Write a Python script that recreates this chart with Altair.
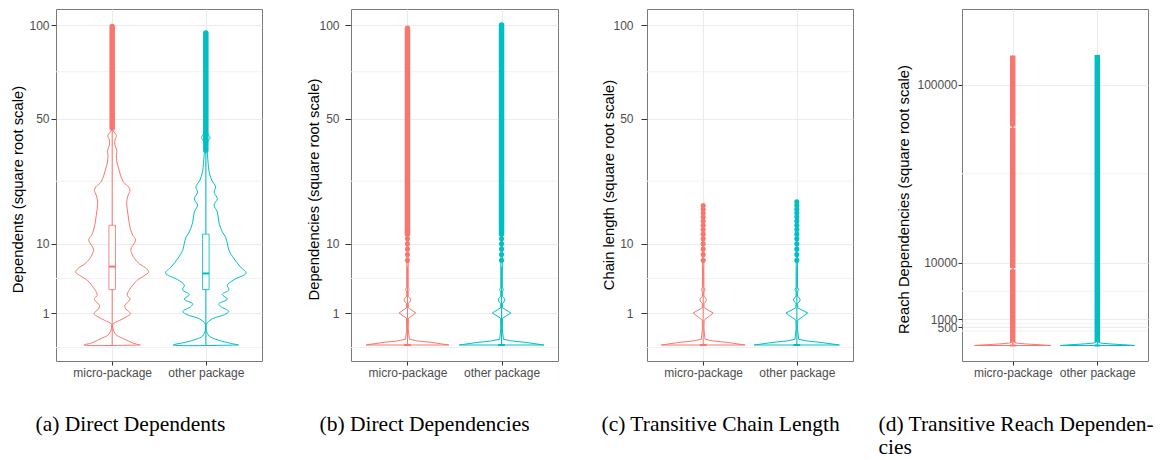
import altair as alt
import pandas as pd

# ---------------- data ----------------
GROUPS = ["micro-package", "other package"]
COLORS = ["#F8766D", "#00BFC4"]
CENTERS = [1, 2]

Y_TITLES = ["Dependents (square root scale)", "Dependencies (square root scale)",
            "Chain length (square root scale)", "Reach Dependencies (square root scale)"]
CAPTIONS = [["(a) Direct Dependents"], ["(b) Direct Dependencies"],
            ["(c) Transitive Chain Length"], ["(d) Transitive Reach Dependen-", "cies"]]
Y_TICKS = [[1, 10, 50, 100], [1, 10, 50, 100], [1, 10, 50, 100], [500, 1000, 10000, 100000]]
Y_DOMAINS = [[-0.25, 110.25], [-0.25, 110.25], [-0.25, 110.25], [-353, 166240]]
MINOR_BREAKS = [[-0.0064, 4.33, 26.2, 72.9], [-0.0064, 4.33, 26.2, 72.9],
                [-0.0064, 4.33, 26.2, 72.9], [314, 729, 4330, 43300]]

# violin outlines: value (data units) and half width (category units)
P1_MICRO_VAL = [0, 0.004, 0.04, 0.09, 0.17, 0.42, 0.59, 0.77, 0.96, 1.28, 1.54, 1.8, 2.1, 2.4, 2.92,
                3.5, 4.08, 4.75, 5.2, 5.66, 6.45, 7.29, 8.12, 9.0, 10.24, 10.9, 11.76, 13.18, 14.75,
                16.4, 18.15, 20.0, 21.9, 23.3, 24.4, 25.9, 28.1, 30.25, 32.7, 35.2, 37.0, 38.9, 41.0,
                42.9, 44.9, 47.6, 99]
P1_MICRO_HW = [0.30, 0.22, 0.12, 0.05, 0.02, 0.007, 0.08, 0.15, 0.195, 0.145, 0.135, 0.17, 0.19, 0.16,
               0.18, 0.22, 0.265, 0.35, 0.39, 0.37, 0.29, 0.24, 0.21, 0.20, 0.24, 0.25, 0.22, 0.195,
               0.18, 0.17, 0.16, 0.155, 0.17, 0.19, 0.175, 0.12, 0.09, 0.07, 0.05, 0.045, 0.05, 0.03,
               0.03, 0.045, 0.01, 0.008, 0.003]
P1_OTHER_VAL = [0, 0.008, 0.032, 0.078, 0.21, 0.42, 0.67, 0.9, 1.1, 1.44, 1.66, 2.05, 2.5, 2.96, 3.5,
                4.16, 5.06, 5.95, 7.29, 8.76, 10.05, 11.4, 12.5, 14.7, 17.3, 19.1, 20.9, 22.8, 24.4,
                26.5, 29.3, 32.1, 35.2, 38.4, 40.3, 42.0, 43.8, 46.2, 95]
P1_OTHER_HW = [0.35, 0.21, 0.106, 0.035, 0.005, 0.004, 0.07, 0.2, 0.245, 0.16, 0.14, 0.23, 0.176,
               0.247, 0.23, 0.30, 0.43, 0.37, 0.30, 0.247, 0.23, 0.21, 0.176, 0.14, 0.123, 0.088,
               0.123, 0.088, 0.106, 0.064, 0.035, 0.025, 0.018, 0.012, 0.02, 0.045, 0.02, 0.008, 0.003]

P2_MICRO_VAL = [0, 0.007, 0.016, 0.032, 0.25, 0.7, 1.0, 1.35, 1.69, 1.8, 2.0, 2.19, 2.31, 2.76, 3.0, 3.24, 98]
P2_MICRO_HW = [0.44, 0.25, 0.107, 0.02, 0.008, 0.01, 0.089, 0.01, 0.008, 0.025, 0.036, 0.025, 0.008,
               0.008, 0.02, 0.008, 0.003]
P2_OTHER_VAL = [0, 0.007, 0.016, 0.032, 0.25, 0.7, 1.0, 1.35, 1.69, 1.8, 2.0, 2.19, 2.31, 2.76, 3.0, 3.24, 100]
P2_OTHER_HW = [0.45, 0.25, 0.107, 0.02, 0.008, 0.01, 0.098, 0.01, 0.008, 0.025, 0.036, 0.025, 0.008,
               0.008, 0.02, 0.008, 0.003]

P3_MICRO_VAL = [0, 0.007, 0.016, 0.032, 0.25, 0.6, 1.0, 1.35, 1.69, 1.8, 2.0, 2.19, 2.31, 2.76, 3.0, 3.24, 19.3]
P3_MICRO_HW = [0.447, 0.25, 0.107, 0.02, 0.008, 0.01, 0.107, 0.01, 0.008, 0.025, 0.036, 0.025, 0.008,
               0.008, 0.02, 0.008, 0.003]
P3_OTHER_VAL = [0, 0.007, 0.016, 0.032, 0.25, 0.6, 1.0, 1.35, 1.69, 1.8, 2.0, 2.19, 2.31, 2.76, 3.0, 3.24, 20.2]
P3_OTHER_HW = [0.455, 0.25, 0.107, 0.02, 0.008, 0.01, 0.116, 0.01, 0.008, 0.025, 0.036, 0.025, 0.008,
               0.008, 0.02, 0.008, 0.003]

P4_MICRO_VAL = [0, 1, 4, 9, 20, 123400]
P4_MICRO_HW = [0.453, 0.3, 0.14, 0.04, 0.008, 0.003]
P4_OTHER_VAL = [0, 1, 4, 9, 20, 124000]
P4_OTHER_HW = [0.44, 0.3, 0.14, 0.04, 0.008, 0.003]

VIOLINS = [[(P1_MICRO_VAL, P1_MICRO_HW), (P1_OTHER_VAL, P1_OTHER_HW)],
           [(P2_MICRO_VAL, P2_MICRO_HW), (P2_OTHER_VAL, P2_OTHER_HW)],
           [(P3_MICRO_VAL, P3_MICRO_HW), (P3_OTHER_VAL, P3_OTHER_HW)],
           [(P4_MICRO_VAL, P4_MICRO_HW), (P4_OTHER_VAL, P4_OTHER_HW)]]

# box plot statistics per panel: [micro, other] -> (lower whisker, q1, median, q3, upper whisker)
BOX_STATS = [[(0, 3, 6, 14, 45), (0, 3, 5, 12, 36)],
             [(0, 0, 0, 0, 6), (0, 0, 0, 0, 6)],
             [(0, 0, 0, 0, 6), (0, 0, 0, 0, 6)],
             [(0, 0, 0, 0, 16), (0, 0, 0, 0, 16)]]
BOX_HALF = 0.035

# outliers: dense runs (start, end) and individually visible points
OUT_RUNS = [[[(46, 99)], [(37, 95)]],
            [[(12, 98)], [(12, 100)]],
            [[], []],
            [[(16, 8500), (8800, 69600), (70400, 123400)], [(16, 124000)]]]
OUT_POINTS = [[[], []],
              [[7, 8, 9, 10, 11], [7, 8, 9, 10, 11]],
              [[7, 8, 9, 10, 11, 12, 13, 14, 15, 16, 17, 18, 19],
               [7, 8, 9, 10, 11, 12, 13, 14, 15, 16, 17, 18, 19, 20]],
              [[], []]]

# ---------------- layout ----------------
PANEL_W = [206, 207, 206, 186]
PANEL_H = 352
GAPS = [89, 89, 109]
TICK_SIZE = [5, 6, 6, 4]
LABEL_PAD = [2, 6, 8, 1]
YTITLE_X = [-38, -36.7, -37.7, -57.6]
YTITLE_Y = [180, 180, 175.5, 190]
CAP_X = [-21, -32, -46, -84]
CAP_Y = 69
CAP_SIZE = 21.5

# ---------------- build tables ----------------
vrows, brows, rrows, prows, mrows = [], [], [], [], []
for p in range(4):
    for g in range(2):
        c = CENTERS[g]
        vals, hws = VIOLINS[p][g]
        right = [(c + w, v) for v, w in zip(vals, hws)]
        left = [(c - w, v) for v, w in zip(reversed(vals), reversed(hws))]
        path = right + left + [right[0]]
        for k, (xx, yy) in enumerate(path):
            vrows.append(dict(panel=p, group=GROUPS[g], seq=k, x=xx, y=yy))
        lo, q1, med, q3, hi = BOX_STATS[p][g]
        brows.append(dict(panel=p, group=GROUPS[g], center=c, xl=c - BOX_HALF, xr=c + BOX_HALF,
                          lo=lo, q1=q1, med=med, q3=q3, hi=hi))
        for a, b in OUT_RUNS[p][g]:
            rrows.append(dict(panel=p, group=GROUPS[g], center=c, start=a, end=b))
        for v in OUT_POINTS[p][g]:
            prows.append(dict(panel=p, group=GROUPS[g], center=c, value=v))
    for v in MINOR_BREAKS[p]:
        mrows.append(dict(panel=p, value=v))

violin_df = pd.DataFrame(vrows)
box_df = pd.DataFrame(brows)
run_df = pd.DataFrame(rrows)
pt_df = pd.DataFrame(prows)
minor_df = pd.DataFrame(mrows)

color_scale = alt.Scale(domain=GROUPS, range=COLORS)
label_expr = f"datum.value == 1 ? '{GROUPS[0]}' : '{GROUPS[1]}'"


def make_panel(p):
    xs = alt.Scale(domain=[0.4, 2.6], nice=False, zero=False)
    ys = alt.Scale(type="sqrt", domain=Y_DOMAINS[p], nice=False, zero=False)
    cap = CAPTIONS[p] if len(CAPTIONS[p]) > 1 else CAPTIONS[p][0]
    x_axis = alt.Axis(values=[1, 2], labelExpr=label_expr, tickSize=4, labelPadding=2,
                      title=cap, titleFont="Liberation Serif", titleFontSize=CAP_SIZE,
                      titleFontWeight="normal", titleColor="#000000", titleX=CAP_X[p], titleY=CAP_Y,
                      titleAlign="left", titleAnchor="start", titleBaseline="alphabetic",
                      titleLineHeight=23, labelAngle=0, labelOverlap=False)
    y_axis = alt.Axis(values=Y_TICKS[p], format="d", tickSize=TICK_SIZE[p], labelPadding=LABEL_PAD[p],
                      title=Y_TITLES[p], titleX=YTITLE_X[p], titleY=YTITLE_Y[p], titleAngle=270,
                      titleAlign="center", titleBaseline="middle", labelOverlap=False)
    col = alt.Color("group:N", scale=color_scale, legend=None)

    base_minor = alt.Chart(minor_df[minor_df.panel == p]).mark_rule(
        color="#F2F2F2", strokeWidth=1).encode(y=alt.Y("value:Q", scale=ys, axis=y_axis))

    violin = alt.Chart(violin_df[violin_df.panel == p]).mark_line(
        strokeWidth=1, interpolate="catmull-rom" if p == 0 else "linear", clip=True).encode(
        x=alt.X("x:Q", scale=xs, axis=x_axis),
        y=alt.Y("y:Q", scale=ys, axis=y_axis),
        order="seq:Q", color=col, detail="group:N")

    bsub = box_df[box_df.panel == p]
    whisker = alt.Chart(bsub).mark_rule(strokeWidth=1).encode(
        x=alt.X("center:Q", scale=xs, axis=x_axis),
        y=alt.Y("lo:Q", scale=ys, axis=y_axis), y2="hi:Q", color=col)
    box = alt.Chart(bsub).mark_rect(fill="white", strokeWidth=1, strokeOpacity=0.85).encode(
        x=alt.X("xl:Q", scale=xs, axis=x_axis), x2="xr:Q",
        y=alt.Y("q1:Q", scale=ys, axis=y_axis), y2="q3:Q",
        stroke=alt.Stroke("group:N", scale=color_scale, legend=None))
    median = alt.Chart(bsub).mark_rule(strokeWidth=2).encode(
        x=alt.X("xl:Q", scale=xs, axis=x_axis), x2="xr:Q",
        y=alt.Y("med:Q", scale=ys, axis=y_axis), color=col)

    layers = [base_minor, violin, whisker, box, median]
    rsub = run_df[run_df.panel == p]
    if len(rsub):
        runs = alt.Chart(rsub).mark_rule(strokeWidth=5.5, strokeCap="butt" if p == 3 else "round").encode(
            x=alt.X("center:Q", scale=xs, axis=x_axis),
            y=alt.Y("start:Q", scale=ys, axis=y_axis), y2="end:Q", color=col)
        layers.append(runs)
    psub = pt_df[pt_df.panel == p]
    if len(psub):
        pts = alt.Chart(psub).mark_circle(size=26, opacity=1).encode(
            x=alt.X("center:Q", scale=xs, axis=x_axis),
            y=alt.Y("value:Q", scale=ys, axis=y_axis), color=col)
        layers.append(pts)
    return alt.layer(*layers).properties(width=PANEL_W[p], height=PANEL_H)


def spacer(w):
    return alt.Chart(pd.DataFrame({"a": [0]})).mark_point(opacity=0, size=1).encode(
        x=alt.value(w / 2), y=alt.value(PANEL_H / 2)).properties(
        width=w, height=PANEL_H, view=alt.ViewBackground(stroke="transparent"))


parts = []
for p in range(4):
    parts.append(make_panel(p))
    if p < 3:
        parts.append(spacer(GAPS[p]))

chart = alt.hconcat(*parts, spacing=0, bounds="flush").properties(
    padding={"left": 1, "top": 0, "right": 0, "bottom": 0}, background="white"
).configure_view(stroke="#7a7a7a", strokeWidth=1).configure_axis(
    gridColor="#EBEBEB", gridWidth=1, domain=False, tickColor="#333333",
    labelColor="#4D4D4D", labelFont="Liberation Sans", labelFontSize=12,
    titleFont="Liberation Sans", titleFontSize=14.8, titleFontWeight="normal", titleColor="#000000"
)

chart.save("out.html", embed_options={"renderer": "svg", "actions": False})
